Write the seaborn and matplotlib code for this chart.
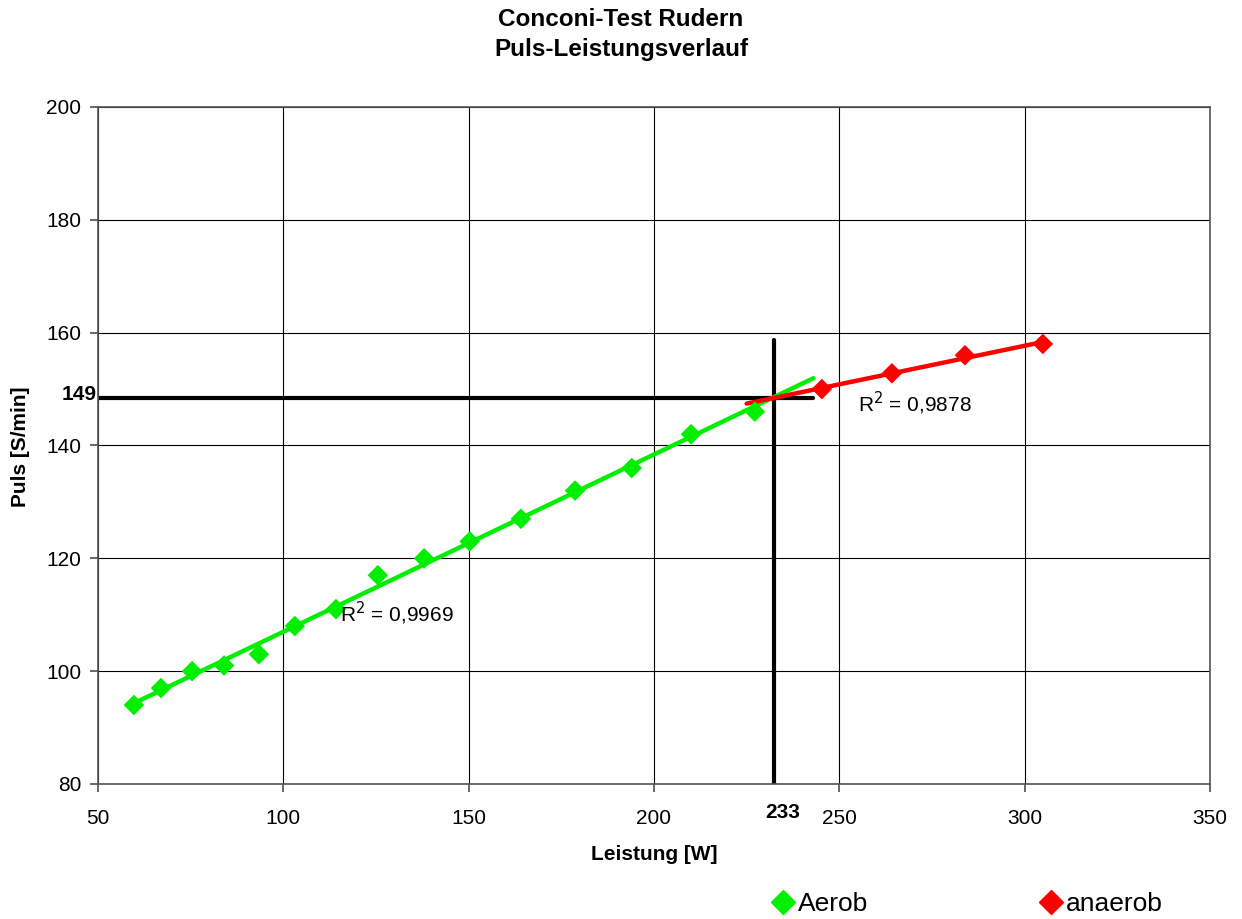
import matplotlib
matplotlib.use("Agg")
import matplotlib.pyplot as plt
import numpy as np
import pandas as pd
import seaborn as sns

# values
aerob_w = [59.7, 67.0, 75.4, 84.0, 93.4, 103.1, 114.2, 125.5, 138.0, 150.3, 164.1, 178.7, 194.0, 210.0, 227.2]
aerob_puls = [94, 97, 100, 101, 103, 108, 111, 117, 120, 123, 127, 132, 136, 142, 146]
anaerob_w = [245.3, 264.2, 283.9, 304.9]
anaerob_puls = [150, 152.8, 156, 158]
schwelle_w = 233
schwelle_puls = 149
# where the hand-drawn threshold lines actually sit
linie_w = 232.4
linie_puls = 148.4
r2_aerob = "0,9969"
r2_anaerob = "0,9878"

sns.set_theme(style="white")
plt.rcParams['font.family'] = ['Liberation Sans', 'DejaVu Sans']
plt.rcParams['text.color'] = 'black'
plt.rcParams['axes.labelcolor'] = 'black'
plt.rcParams['xtick.color'] = 'black'
plt.rcParams['ytick.color'] = 'black'

df = pd.concat([
    pd.DataFrame({'Leistung': aerob_w, 'Puls': aerob_puls, 'Phase': 'Aerob'}),
    pd.DataFrame({'Leistung': anaerob_w, 'Puls': anaerob_puls, 'Phase': 'anaerob'}),
])
palette = {'Aerob': '#00ee00', 'anaerob': '#ff0000'}

fig = plt.figure(figsize=(12.42, 9.19), dpi=100)
ax = fig.add_axes([0.0789, 0.1469, 0.8953, 0.7367])

# linear trend lines
for phase, lo, hi in [('Aerob', 60, 243), ('anaerob', 225, 305)]:
    sub = df[df['Phase'] == phase]
    k, d = np.polyfit(sub['Leistung'], sub['Puls'], 1)
    xs = np.array([lo, hi])
    ax.plot(xs, k * xs + d, color=palette[phase], lw=3.2, zorder=3)

sns.scatterplot(data=df, x='Leistung', y='Puls', hue='Phase', palette=palette,
                marker='D', s=110, edgecolor='none', ax=ax, zorder=4, legend=False)

# threshold lines
ax.plot([50, 243], [linie_puls, linie_puls], color='black', lw=3, zorder=2)
ax.plot([linie_w, linie_w], [80, 158.7], color='black', lw=3, zorder=2)

ax.text(115.3, 110.3, "R$^2$ = " + r2_aerob, fontsize=15, va='center', ha='left', zorder=5)
ax.text(255, 147.5, "R$^2$ = " + r2_anaerob, fontsize=15, va='center', ha='left', zorder=5)
ax.text(49.5, schwelle_puls, str(schwelle_puls), fontsize=15, fontweight='bold',
        ha='right', va='center', clip_on=False)
ax.text(linie_w + 2.2, 74.9, str(schwelle_w), fontsize=15, fontweight='bold',
        ha='center', va='center', clip_on=False)

ax.set_xlim(50, 350)
ax.set_ylim(80, 200)
ax.set_xticks(range(50, 351, 50))
ax.set_yticks(range(80, 201, 20))
ax.grid(True, color='black', lw=0.8)
ax.set_axisbelow(True)
for sp in ax.spines.values():
    sp.set_color('#555555')
    sp.set_linewidth(1.2)
ax.tick_params(axis='both', labelsize=15, length=6, direction='out', color='#555555',
               bottom=True, left=True)
ax.tick_params(axis='x', pad=12)
ax.tick_params(axis='y', pad=6)
ax.set_xlabel('Leistung [W]', fontsize=15, fontweight='bold', labelpad=12)
ax.set_ylabel('Puls [S/min]', fontsize=15, fontweight='bold')
ax.yaxis.set_label_coords(-0.061, 0.498)

fig.suptitle('Conconi-Test Rudern\nPuls-Leistungsverlauf', fontsize=17.5, fontweight='bold',
             y=0.991, linespacing=1.38)

handles = [plt.Line2D([], [], marker='D', ls='none', color=palette[p], markersize=12, label=p)
           for p in ['Aerob', 'anaerob']]
fig.legend(handles=handles, loc='center', bbox_to_anchor=(0.778, 0.016), ncol=2,
           frameon=False, fontsize=19, columnspacing=6.45, handletextpad=0.05, handlelength=1.0)

fig.savefig('out.png', dpi=100)
